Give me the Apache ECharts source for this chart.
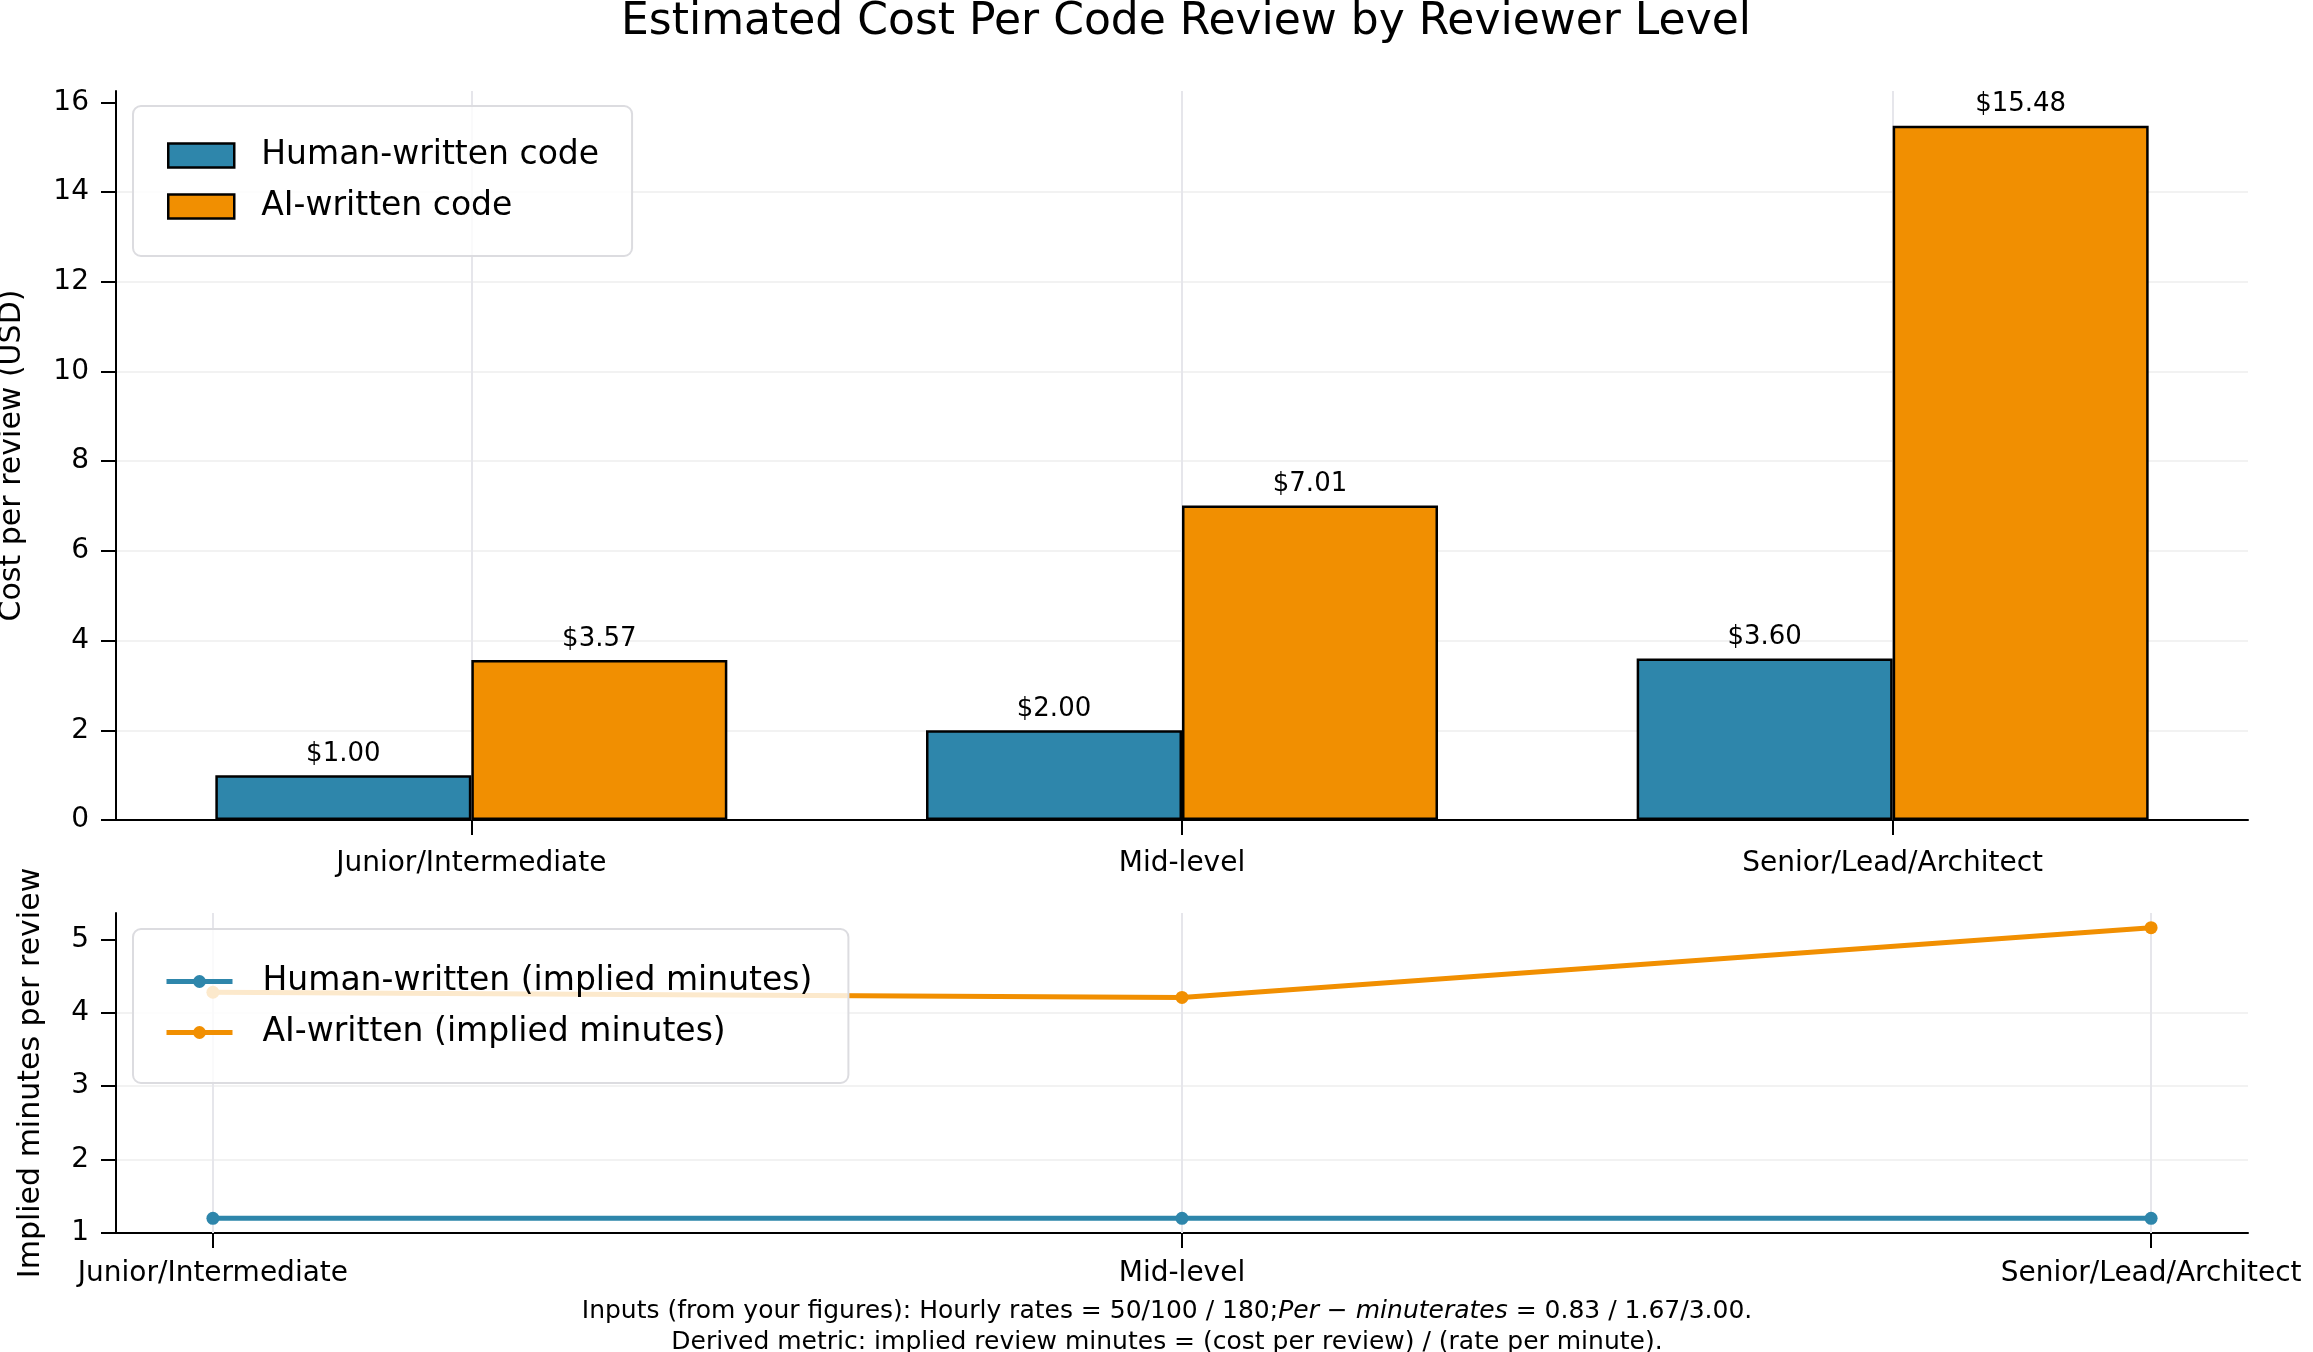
<!DOCTYPE html>
<html>
<head>
    <meta charset="utf-8">
    <title>Code review cost</title>
    <script src="https://cdn.jsdelivr.net/npm/echarts@6/dist/echarts.min.js"></script>
    <style>
        html, body { margin: 0; padding: 0; background: #fff; }
    </style>
</head>
<body>
    <div id="main" style="width: 2313px;height: 1352px;"></div>
    <script type="text/javascript">
        // data
        var levels = ['Junior/Intermediate', 'Mid-level', 'Senior/Lead/Architect'];
        var humanCost = [1.00, 2.00, 3.60];
        var aiCost = [3.57, 7.01, 15.48];
        var humanMinutes = [1.20, 1.20, 1.20];
        var aiMinutes = [4.28, 4.21, 5.16];
        var costTicks = [0, 2, 4, 6, 8, 10, 12, 14, 16];
        var minuteTicks = [1, 2, 3, 4, 5];
        var levelTicks = [0, 1, 2];

        var BLUE = '#2E86AB';
        var ORANGE = '#F18F01';
        var FONT = 'DejaVu Sans';

        function pairs(vals) {
            return vals.map(function (v, i) { return [i, v]; });
        }

        var myChart = echarts.init(document.getElementById('main'));

        // vertical grid lines at each level
        function gridV() {
            return {
                silent: true,
                symbol: 'none',
                label: { show: false },
                lineStyle: { color: '#e6e6eb', width: 2, type: 'solid' },
                data: levelTicks.map(function (i) { return { xAxis: i }; }),
                z: 1
            };
        }

        function yAxisBase(idx, mn, mx, step, ticks, name, gap) {
            return {
                type: 'value', gridIndex: idx, min: mn, max: mx, interval: step,
                name: name, nameLocation: 'middle', nameGap: gap, nameMoveOverlap: false,
                nameTextStyle: { color: '#000', fontSize: 30, fontFamily: FONT },
                axisLine: { show: true, onZero: false, lineStyle: { color: '#000', width: 2 } },
                axisTick: { show: true, length: 15, lineStyle: { color: '#000', width: 2 }, customValues: ticks },
                axisLabel: { customValues: ticks, margin: 27, color: '#000', fontSize: 28, fontFamily: FONT },
                splitLine: { show: true, showMaxLine: false, lineStyle: { color: '#f2f2f2', width: 2 } }
            };
        }

        var option = {
            backgroundColor: '#fff',
            animation: false,
            textStyle: { fontFamily: FONT },
            title: [
                {
                    text: 'Estimated Cost Per Code Review by Reviewer Level',
                    left: 1181, top: -4, textAlign: 'center',
                    textStyle: { fontSize: 44, fontWeight: 'normal', color: '#000', fontFamily: FONT }
                },
                {
                    text: '{a|Inputs (from your figures): Hourly rates = 50/100 / 180;}{i|Per − minuterates}{a| = 0.83 / 1.67/3.00.}',
                    left: 1162, top: 1294, textAlign: 'center',
                    textStyle: {
                        fontWeight: 'normal',
                        rich: {
                            a: { fontSize: 25, color: '#000', fontFamily: FONT, fontWeight: 'normal' },
                            i: { fontSize: 25, color: '#000', fontFamily: FONT, fontWeight: 'normal', fontStyle: 'italic' }
                        }
                    }
                },
                {
                    text: 'Derived metric: implied review minutes = (cost per review) / (rate per minute).',
                    left: 1162, top: 1325, textAlign: 'center',
                    textStyle: { fontSize: 25, fontWeight: 'normal', color: '#000', fontFamily: FONT }
                }
            ],
            legend: [
                {
                    data: ['Human-written code', 'AI-written code'],
                    orient: 'vertical', left: 133, top: 106,
                    icon: 'rect',
                    itemWidth: 66, itemHeight: 24, itemGap: 18,
                    padding: [33, 33, 33, 34],
                    backgroundColor: 'rgba(255,255,255,0.8)',
                    borderColor: '#dcdce0', borderWidth: 2, borderRadius: 8,
                    itemStyle: { borderColor: '#000', borderWidth: 2.5 },
                    textStyle: { fontSize: 33, color: '#000', fontFamily: FONT, padding: [0, 0, 0, 22] }
                },
                {
                    data: ['Human-written (implied minutes)', 'AI-written (implied minutes)'],
                    orient: 'vertical', left: 133, top: 929,
                    itemWidth: 66, itemHeight: 16, itemGap: 18,
                    padding: [36, 36, 34, 31],
                    backgroundColor: 'rgba(255,255,255,0.8)',
                    borderColor: '#dcdce0', borderWidth: 2, borderRadius: 8,
                    lineStyle: { width: 5 },
                    textStyle: { fontSize: 33, color: '#000', fontFamily: FONT, padding: [0, 0, 0, 25] }
                }
            ],
            grid: [
                { left: 116, right: 65, top: 91, height: 729, containLabel: false, outerBoundsMode: 'none' },
                { left: 116, right: 65, top: 913, height: 320, containLabel: false, outerBoundsMode: 'none' }
            ],
            xAxis: [
                {
                    type: 'category', gridIndex: 0, data: levels,
                    axisLine: { show: true, onZero: false, lineStyle: { color: '#000', width: 2 } },
                    axisTick: { show: true, alignWithLabel: true, length: 15, lineStyle: { color: '#000', width: 2 } },
                    axisLabel: { margin: 30, color: '#000', fontSize: 28, fontFamily: FONT },
                    splitLine: { show: false }
                },
                {
                    type: 'value', gridIndex: 1, min: -0.1, max: 2.1,
                    axisLine: { show: true, onZero: false, lineStyle: { color: '#000', width: 2 } },
                    axisTick: { show: true, length: 15, lineStyle: { color: '#000', width: 2 }, customValues: levelTicks },
                    axisLabel: {
                        customValues: levelTicks, margin: 27, color: '#000', fontSize: 28, fontFamily: FONT,
                        formatter: function (v) { return levels[Math.round(v)]; }
                    },
                    splitLine: { show: false }
                }
            ],
            yAxis: [
                yAxisBase(0, 0, 16.254, 2, costTicks, 'Cost per review (USD)', 89),
                yAxisBase(1, 1, 5.36, 1, minuteTicks, 'Implied minutes per review', 70)
            ],
            series: [
                {
                    // carries only the vertical grid lines of the upper panel
                    name: 'grid', type: 'line',
                    xAxisIndex: 0, yAxisIndex: 0,
                    data: [],
                    markLine: gridV()
                },
                {
                    name: 'Human-written code', type: 'bar',
                    xAxisIndex: 0, yAxisIndex: 0,
                    data: humanCost,
                    barWidth: 256, barGap: '0%',
                    itemStyle: { color: BLUE, borderColor: '#000', borderWidth: 2.5 },
                    label: {
                        show: true, position: 'top', distance: 8, color: '#000', fontSize: 26, fontFamily: FONT,
                        formatter: function (p) { return '$' + p.value.toFixed(2); }
                    }
                },
                {
                    name: 'AI-written code', type: 'bar',
                    xAxisIndex: 0, yAxisIndex: 0,
                    data: aiCost,
                    barWidth: 256, barGap: '0%',
                    itemStyle: { color: ORANGE, borderColor: '#000', borderWidth: 2.5 },
                    label: {
                        show: true, position: 'top', distance: 8, color: '#000', fontSize: 26, fontFamily: FONT,
                        formatter: function (p) { return '$' + p.value.toFixed(2); }
                    }
                },
                {
                    name: 'Human-written (implied minutes)', type: 'line',
                    xAxisIndex: 1, yAxisIndex: 1,
                    data: pairs(humanMinutes),
                    symbol: 'circle', symbolSize: 13,
                    lineStyle: { color: BLUE, width: 5 },
                    itemStyle: { color: BLUE },
                    markLine: gridV()
                },
                {
                    name: 'AI-written (implied minutes)', type: 'line',
                    xAxisIndex: 1, yAxisIndex: 1,
                    data: pairs(aiMinutes),
                    symbol: 'circle', symbolSize: 13,
                    lineStyle: { color: ORANGE, width: 5 },
                    itemStyle: { color: ORANGE }
                }
            ]
        };

        myChart.setOption(option);
        window.onresize = myChart.resize;
    </script>
</body>
</html>
